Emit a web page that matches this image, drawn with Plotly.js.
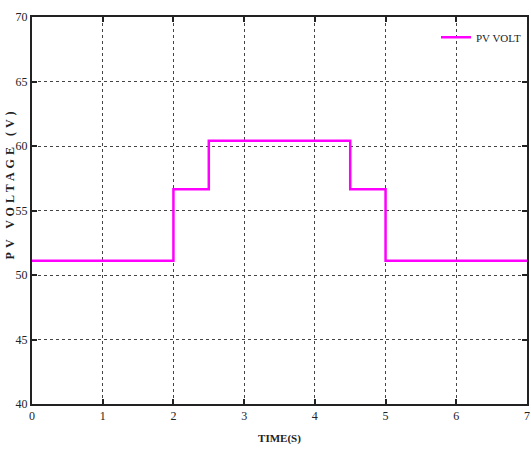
<!DOCTYPE html>
<html><head><meta charset="utf-8">
<script src="https://cdn.plot.ly/plotly-3.0.1.min.js"></script>
<style>body{margin:0;background:#fff}#c{width:531px;height:449px}
.annotation-text{letter-spacing:4px}</style>
</head><body><div id="c"></div>
<script>
const timeS = [0, 2, 2.5, 4.5, 5, 7];
const pvVolt = [51.1, 56.65, 60.4, 56.65, 51.1, 51.1];
const xTicks = [0, 1, 2, 3, 4, 5, 6, 7];
const yTicks = [40, 45, 50, 55, 60, 65, 70];

const axisBase = {
  showline: true, linecolor: '#222', linewidth: 2, mirror: 'ticks',
  ticks: 'inside', ticklen: 5, tickwidth: 2, tickcolor: '#222',
  showgrid: true, gridcolor: '#444', griddash: 'dot', gridwidth: 1,
  zeroline: false,
  tickfont: {family: 'Liberation Serif', size: 12, color: '#222'}
};

Plotly.newPlot('c', [{
  x: timeS, y: pvVolt, type: 'scatter', mode: 'lines', name: 'PV VOLT',
  line: {shape: 'hv', color: '#ff00ff', width: 2.5}
}], {
  width: 531, height: 449,
  margin: {l: 32, r: 4, t: 17, b: 45},
  paper_bgcolor: '#fff', plot_bgcolor: '#fff',
  showlegend: true,
  legend: {x: 1.0, y: 0.985, xanchor: 'right', yanchor: 'top', bgcolor: 'rgba(255,255,255,0)',
    font: {family: 'Liberation Serif', size: 11, color: '#222'}, itemwidth: 30, tracegroupgap: 0},
  xaxis: Object.assign({}, axisBase, {range: [0, 7], tickvals: xTicks,
    title: {text: '<b>TIME(S)</b>', font: {family: 'Liberation Serif', size: 11, color: '#222'}, standoff: 12}}),
  yaxis: Object.assign({}, axisBase, {range: [40, 70], tickvals: yTicks}),
  annotations: [{
    text: '<b>PV VOLTAGE (V)</b>', textangle: -90, xref: 'paper', yref: 'paper',
    x: 0, xshift: -22, y: 0.57, xanchor: 'center', yanchor: 'middle', showarrow: false,
    font: {family: 'Liberation Serif', size: 12, color: '#222'}
  }]
}, {displayModeBar: false, staticPlot: true});
</script></body></html>
